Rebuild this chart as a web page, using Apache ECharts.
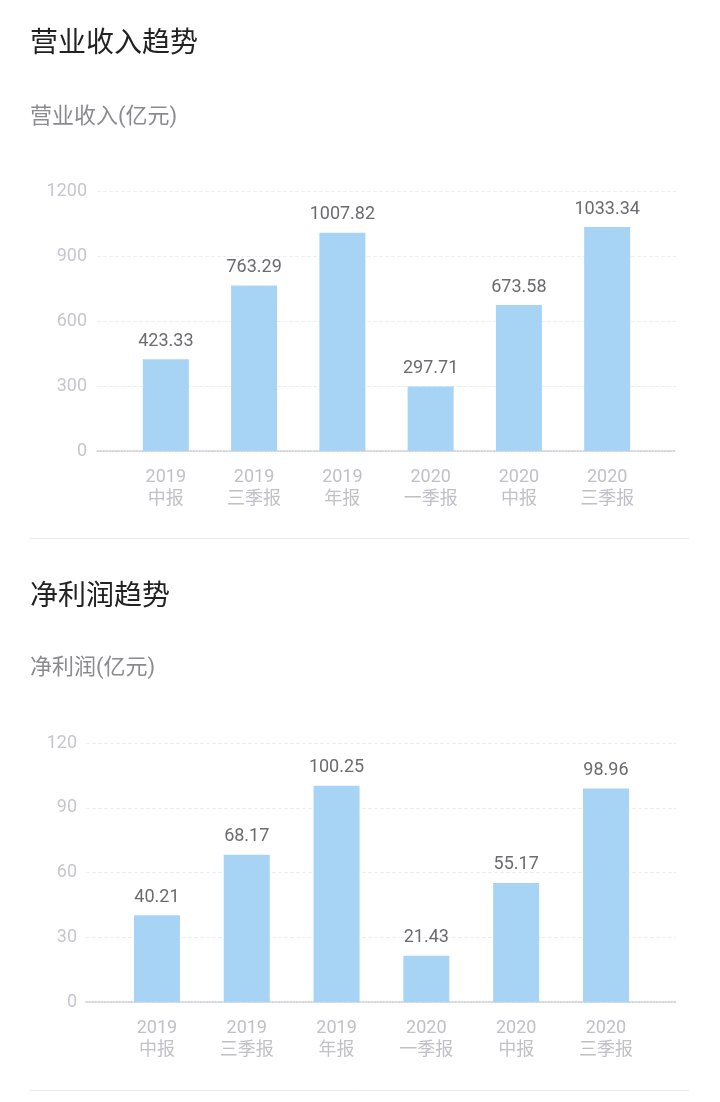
<!DOCTYPE html>
<html>
<head>
<meta charset="utf-8">
<script src="https://cdn.jsdelivr.net/npm/echarts@6/dist/echarts.min.js"></script>
<style>
html,body{margin:0;padding:0;background:#fff;}
#c{width:720px;height:1102px;}
</style>
</head>
<body>
<div id="c"></div>
<script>
var categories = ['2019\n中报', '2019\n三季报', '2019\n年报', '2020\n一季报', '2020\n中报', '2020\n三季报'];
var revenue = [423.33, 763.29, 1007.82, 297.71, 673.58, 1033.34];
var profit = [40.21, 68.17, 100.25, 21.43, 55.17, 98.96];
var revenueTicks = [0, 300, 600, 900, 1200];
var profitTicks = [0, 30, 60, 90, 120];

var FONT = 'Roboto, "Noto Sans CJK SC", sans-serif';
var barColor = '#a7d4f5';
var catIdx = categories.map(function (c, i) { return i; });

function xAx(idx, minV, maxV) {
  return {
    type: 'value', gridIndex: idx, min: minV, max: maxV,
    axisLine: { show: true, onZero: false, lineStyle: { color: '#c9ccd6', type: 'dotted', width: 1.5 } },
    axisTick: { show: false },
    axisLabel: {
      customValues: catIdx, showMinLabel: true, showMaxLabel: true, hideOverlap: false,
      formatter: function (v) { return categories[Math.round(v)] || ''; },
      color: '#c0c0c6', fontSize: 18, lineHeight: 22, margin: 15, fontFamily: FONT
    },
    splitLine: { show: false }
  };
}
function yAx(idx, max, interval, margin) {
  return {
    type: 'value', gridIndex: idx, min: 0, max: max, interval: interval,
    axisLine: { show: false }, axisTick: { show: false },
    axisLabel: { color: '#c6c6ce', fontSize: 18, margin: margin, fontFamily: FONT, formatter: function (v) { return String(v); } },
    splitLine: { show: true, lineStyle: { color: '#eeeeee', type: 'dashed', width: 1 } }
  };
}
function barSeries(idx, data) {
  return {
    type: 'bar', xAxisIndex: idx, yAxisIndex: idx,
    data: data.map(function (v, i) { return [i, v]; }), barWidth: 46,
    itemStyle: { color: barColor },
    label: { show: true, position: 'top', distance: 9, color: '#6b6b70', fontSize: 18, fontFamily: FONT,
      formatter: function (p) { return p.value[1].toFixed(2); } },
    z: 3
  };
}

var chart = echarts.init(document.getElementById('c'), null, { renderer: 'canvas' });
chart.setOption({
  backgroundColor: '#ffffff',
  animation: false,
  title: [
    { text: '营业收入趋势', left: 30, top: 31, padding: 0, textStyle: { fontSize: 28, fontWeight: 'normal', color: '#222', fontFamily: FONT } },
    { text: '营业收入(亿元)', left: 30, top: 106, padding: 0, textStyle: { fontSize: 22, fontWeight: 'normal', color: '#8a8a8f', fontFamily: FONT } },
    { text: '净利润趋势', left: 30, top: 584, padding: 0, textStyle: { fontSize: 28, fontWeight: 'normal', color: '#222', fontFamily: FONT } },
    { text: '净利润(亿元)', left: 30, top: 657, padding: 0, textStyle: { fontSize: 22, fontWeight: 'normal', color: '#8a8a8f', fontFamily: FONT } }
  ],
  grid: [
    { left: 97, right: 44, top: 191, height: 260 },
    { left: 86, right: 44, top: 743, height: 259 }
  ],
  xAxis: [xAx(0, -0.78, 5.78), xAx(1, -0.79, 5.78)],
  yAxis: [yAx(0, revenueTicks[revenueTicks.length - 1], revenueTicks[1] - revenueTicks[0], 10),
          yAx(1, profitTicks[profitTicks.length - 1], profitTicks[1] - profitTicks[0], 9)],
  series: [barSeries(0, revenue), barSeries(1, profit)],
  graphic: [
    { type: 'line', shape: { x1: 30, y1: 538.5, x2: 689, y2: 538.5 }, style: { stroke: '#ececec', lineWidth: 1 } },
    { type: 'line', shape: { x1: 30, y1: 1090.5, x2: 689, y2: 1090.5 }, style: { stroke: '#ececec', lineWidth: 1 } }
  ]
});
</script>
</body>
</html>
